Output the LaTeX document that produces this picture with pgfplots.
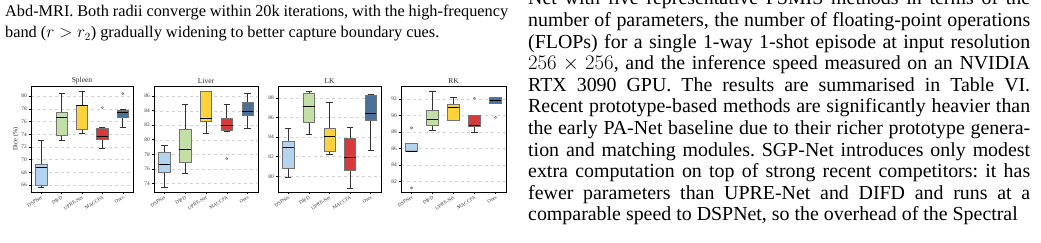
\documentclass[border=0pt]{standalone}
\usepackage{fontspec}
\setmainfont{Liberation Serif}
\usepackage{pgfplots}
\pgfplotsset{compat=1.18}
\usepgfplotslibrary{statistics}
\definecolor{cDSP}{HTML}{B4D3EE}
\definecolor{cDIFD}{HTML}{C2DFA5}
\definecolor{cUPRE}{HTML}{FDD23A}
\definecolor{cMAC}{HTML}{D63A3A}
\definecolor{cOurs}{HTML}{4B7199}
\pgfplotsset{
  bx/.style={
    scale only axis, height=106pt,
    boxplot/draw direction=y,
    xmin=-0.5, xmax=4.5, xtick={0,1,2,3,4},
    xticklabels={DSPNet,DIFD,UPRE-Net,MACCFA,Ours},
    x tick label style={rotate=32, anchor=north east, font=\fontsize{5}{6}\selectfont, inner sep=0.8pt, text=black!80},
    y tick label style={font=\fontsize{5.4}{6}\selectfont, inner sep=1.5pt, text=black!80},
    /pgf/number format/assume math mode=true,
    title style={font=\fontsize{7.5}{8}\selectfont, inner sep=1pt, yshift=-5pt, text=black!85},
    ymajorgrids, grid style={dashed, gray!35, line width=0.35pt},
    tick align=outside, tick pos=left, major tick length=2.5pt,
    every tick/.style={black, line width=0.5pt},
    axis line style={line width=0.8pt},
    ytick distance=2,
  }
}
\newcommand{\onebox}[8]{\addplot[boxplot prepared={draw position=#1, lower whisker=#2, lower quartile=#3, median=#4, upper quartile=#5, upper whisker=#6, box extend=0.55, whisker extend=0.3, every median/.style={black, line width=0.8pt}, every whisker/.style={black!80, line width=0.8pt}}, fill=#7, draw=black!55, line width=0.6pt, mark=o, mark size=1.1pt, mark options={gray!80!black, line width=0.45pt, fill=none}] coordinates {#8};}
\begin{document}
\frenchspacing
\begin{tikzpicture}
\useasboundingbox (0pt,0pt) rectangle (1041pt,243pt);
% paper text, left column
\node[anchor=base west, inner sep=0pt, text width=503pt, align=justify, font=\fontsize{16.3}{20.6}\selectfont\frenchspacing] at (5pt,226pt)
 {Abd-MRI. Both radii converge within 20k iterations, with the high-frequency\linebreak band ($r > r_2$) gradually widening to better capture boundary cues.};
% paper text, right column
\node[anchor=base west, inner sep=0pt, text width=502pt, align=justify, font=\fontsize{19.9}{21.6}\selectfont\frenchspacing] at (528pt,238pt)
 {\parfillskip=0pt Net with five representative FSMIS methods in terms of the\linebreak
 number of parameters, the number of floating-point operations\linebreak
 (FLOPs) for a single 1-way 1-shot episode at input resolution\linebreak
 $256\times256$, and the inference speed measured on an NVIDIA\linebreak
 RTX 3090 GPU. The results are summarised in Table VI.\linebreak
 Recent prototype-based methods are significantly heavier than\linebreak
 the early PA-Net baseline due to their richer prototype genera-\linebreak
 tion and matching modules. SGP-Net introduces only modest\linebreak
 extra computation on top of strong recent competitors: it has\linebreak
 fewer parameters than UPRE-Net and DIFD and runs at a\linebreak
 comparable speed to DSPNet, so the overhead of the Spectral};
% Spleen
\begin{axis}[bx, at={(31pt,51pt)}, anchor=south west, width=102pt,
  ymin=64.9, ymax=81.6, title={Spleen}, ylabel={Dice (\%)},
  ylabel style={font=\fontsize{6.4}{7}\selectfont, inner sep=1pt, text=black!85}]
\onebox{0}{65.6}{66.0}{68.7}{69.3}{73.0}{cDSP}{}
\onebox{1}{73.05}{73.9}{76.7}{77.5}{80.4}{cDIFD}{}
\onebox{2}{74.1}{74.7}{78.5}{78.6}{80.7}{cUPRE}{}
\onebox{3}{71.7}{73.2}{73.6}{74.9}{75.0}{cMAC}{(3,78.2)}
\onebox{4}{75.0}{76.7}{77.4}{77.8}{77.9}{cOurs}{(4,80.4)}
\end{axis}
% Liver
\begin{axis}[bx, at={(154pt,51pt)}, anchor=south west, width=104pt,
  ymin=72.8, ymax=87.4, title={Liver}]
\onebox{0}{73.4}{75.5}{76.6}{78.2}{79.2}{cDSP}{}
\onebox{1}{75.4}{76.9}{78.7}{81.4}{84.8}{cDIFD}{}
\onebox{2}{80.9}{82.5}{82.9}{86.7}{86.7}{cUPRE}{}
\onebox{3}{81.2}{81.3}{82.0}{82.9}{84.8}{cMAC}{(3,77.4)}
\onebox{4}{81.6}{83.4}{83.9}{85.2}{86.4}{cOurs}{}
\end{axis}
% LK
\begin{axis}[bx, at={(278pt,51pt)}, anchor=south west, width=103pt,
  ymin=78.4, ymax=89.2, title={LK}]
\onebox{0}{79.9}{80.8}{82.9}{83.6}{84.9}{cDSP}{}
\onebox{1}{84.3}{85.5}{87.1}{88.5}{88.6}{cDIFD}{}
\onebox{2}{82.2}{82.5}{84.1}{84.9}{87.5}{cUPRE}{}
\onebox{3}{78.8}{80.6}{81.9}{83.9}{85.0}{cMAC}{}
\onebox{4}{82.6}{85.7}{86.4}{88.3}{88.3}{cOurs}{}
\end{axis}
% RK
\begin{axis}[bx, at={(401pt,51pt)}, anchor=south west, width=105pt,
  ymin=80.7, ymax=93.6, title={RK}]
\onebox{0}{85.6}{85.6}{85.7}{86.6}{86.6}{cDSP}{(0,88.5) (0,81.2)}
\onebox{1}{88.2}{88.8}{89.5}{90.7}{93.0}{cDIFD}{}
\onebox{2}{89.4}{89.4}{91.0}{91.4}{92.2}{cUPRE}{}
\onebox{3}{88.0}{88.7}{88.8}{90.0}{90.0}{cMAC}{(3,92.1)}
\onebox{4}{91.5}{91.5}{91.8}{92.2}{92.2}{cOurs}{(4,89.8)}
\end{axis}
\end{tikzpicture}
\end{document}
